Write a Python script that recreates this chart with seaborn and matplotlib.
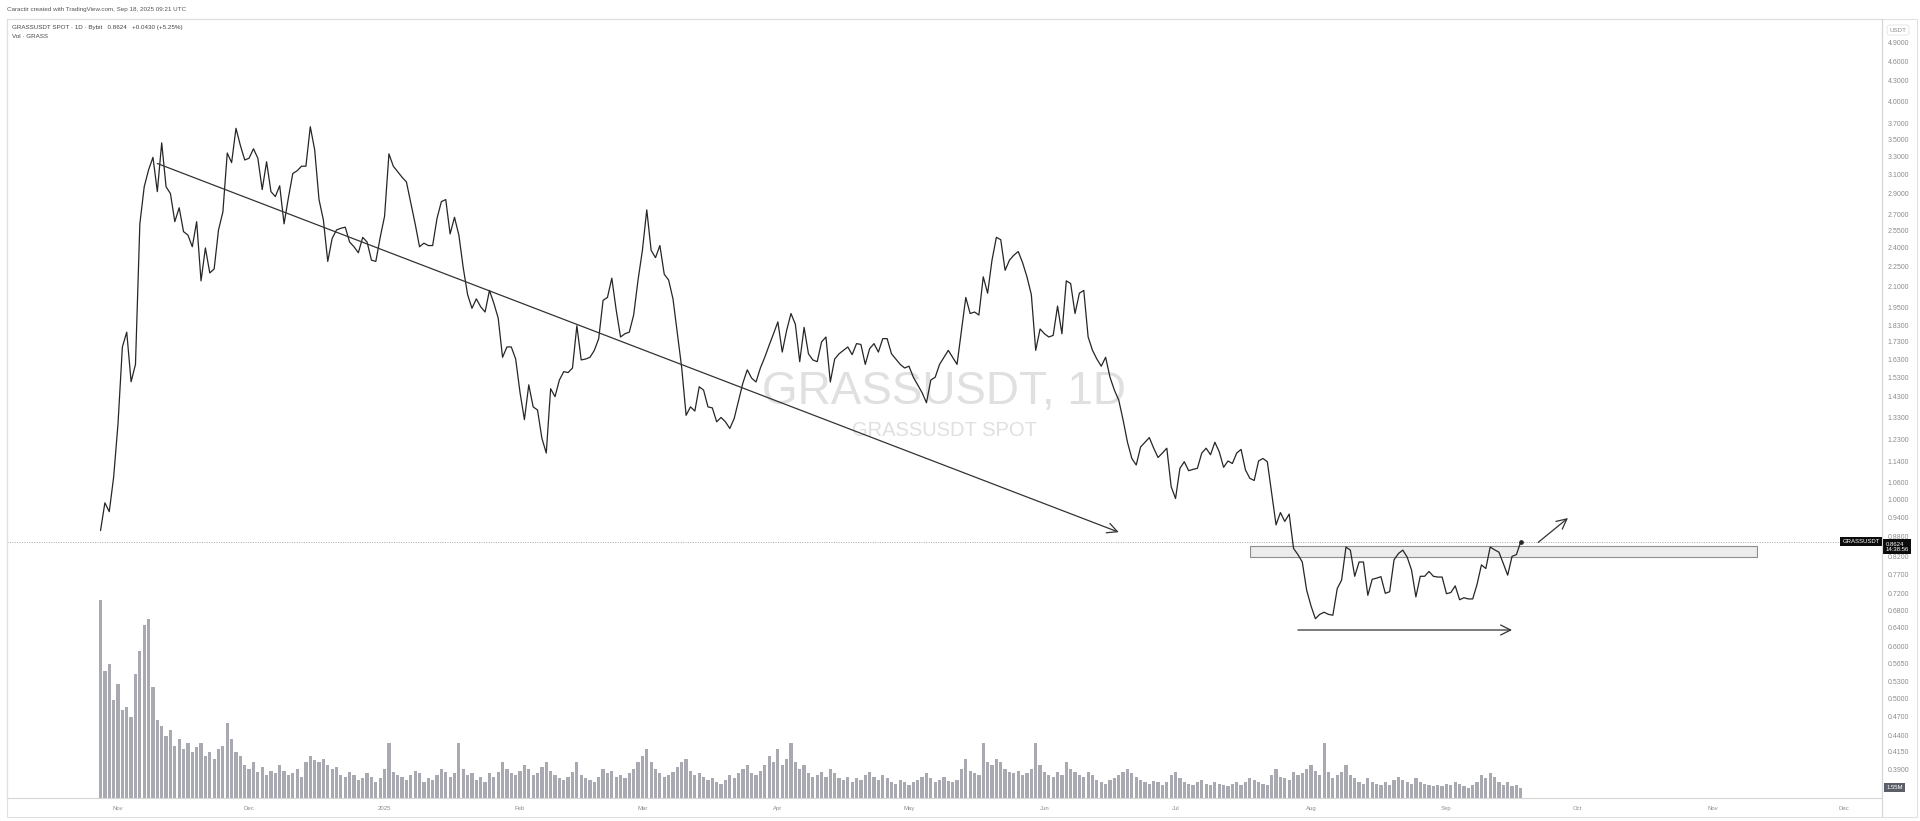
import numpy as np
import pandas as pd
import matplotlib
matplotlib.use("Agg")
import matplotlib.pyplot as plt
import matplotlib.dates as mdates
from matplotlib.patches import Rectangle
import seaborn as sns

# ---------------- data ----------------
start_date = "2024-10-28"

price = [
    0.897, 0.988, 0.958, 1.08, 1.30, 1.70, 1.79, 1.506, 1.60, 2.61,
    2.97, 3.15, 3.29, 2.92, 3.46, 2.97, 2.90, 2.63, 2.76, 2.54,
    2.51, 2.41, 2.63, 2.14, 2.40, 2.20, 2.23, 2.555, 2.72, 3.34,
    3.23, 3.64, 3.43, 3.26, 3.28, 3.39, 3.28, 2.94, 3.24, 2.92,
    2.87, 2.98, 2.61, 2.86, 3.11, 3.14, 3.19, 3.19, 3.66, 3.38,
    2.84, 2.645, 2.29, 2.48, 2.555, 2.57, 2.58, 2.45, 2.41, 2.36,
    2.49, 2.45, 2.30, 2.29, 2.49, 2.68, 3.33, 3.19, 3.13, 3.07,
    3.02, 2.81, 2.61, 2.41, 2.44, 2.42, 2.42, 2.66, 2.82, 2.84,
    2.52, 2.67, 2.51, 2.24, 2.04, 1.945, 2.01, 1.955, 1.92, 2.07,
    1.98, 1.88, 1.64, 1.70, 1.70, 1.63, 1.45, 1.32, 1.49, 1.38,
    1.365, 1.237, 1.175, 1.47, 1.43, 1.515, 1.56, 1.555, 1.58, 1.83,
    1.625, 1.63, 1.64, 1.68, 1.75, 2.00, 2.02, 2.16, 1.934, 1.76,
    1.78, 1.79, 1.90, 2.146, 2.38, 2.74, 2.38, 2.32, 2.42, 2.19,
    2.146, 2.01, 1.78, 1.58, 1.34, 1.38, 1.36, 1.48, 1.463, 1.38,
    1.375, 1.31, 1.33, 1.31, 1.28, 1.325, 1.41, 1.50, 1.57, 1.525,
    1.505, 1.58, 1.64, 1.71, 1.78, 1.855, 1.67, 1.80, 1.91, 1.84,
    1.615, 1.82, 1.66, 1.625, 1.615, 1.73, 1.76, 1.505, 1.63, 1.66,
    1.68, 1.70, 1.655, 1.72, 1.715, 1.60, 1.69, 1.72, 1.67, 1.75,
    1.75, 1.66, 1.63, 1.60, 1.58, 1.59, 1.53, 1.49, 1.45, 1.40,
    1.515, 1.53, 1.60, 1.64, 1.68, 1.64, 1.60, 1.80, 2.02, 1.91,
    1.92, 1.90, 2.17, 2.05, 2.30, 2.49, 2.47, 2.22, 2.30, 2.34,
    2.37, 2.28, 2.17, 2.04, 1.68, 1.81, 1.78, 1.76, 1.77, 1.96,
    1.78, 2.14, 2.12, 1.91, 2.05, 2.07, 1.76, 1.68, 1.63, 1.59,
    1.64, 1.53, 1.463, 1.413, 1.318, 1.22, 1.153, 1.127, 1.20, 1.22,
    1.24, 1.195, 1.157, 1.175, 1.195, 1.045, 1.003, 1.114, 1.14, 1.105,
    1.11, 1.114, 1.175, 1.195, 1.168, 1.22, 1.18, 1.118, 1.143, 1.133,
    1.175, 1.19, 1.108, 1.076, 1.068, 1.143, 1.153, 1.14, 1.02, 0.915,
    0.955, 0.926, 0.950, 0.843, 0.825, 0.804, 0.729, 0.69, 0.66, 0.67,
    0.675, 0.67, 0.668, 0.733, 0.755, 0.847, 0.838, 0.765, 0.804, 0.804,
    0.716, 0.757, 0.76, 0.764, 0.721, 0.725, 0.81, 0.828, 0.838, 0.818,
    0.782, 0.712, 0.765, 0.765, 0.778, 0.765, 0.763, 0.763, 0.72, 0.723,
    0.74, 0.705, 0.71, 0.707, 0.707, 0.744, 0.796, 0.786, 0.847, 0.839,
    0.832, 0.80, 0.768, 0.82, 0.825, 0.8624,
]

volume_m = [
    30.4, 19.5, 20.5, 15.0, 17.5, 13.5, 14.0, 12.5, 19.0, 22.5,
    26.5, 27.5, 17.0, 12.0, 11.0, 9.5, 10.5, 8.0, 9.0, 7.5,
    8.5, 7.0, 7.8, 8.5, 6.5, 7.0, 6.0, 7.5, 8.0, 11.5,
    9.0, 7.0, 6.5, 5.0, 4.5, 5.5, 4.0, 4.8, 3.5, 4.2,
    3.8, 5.0, 4.2, 3.5, 3.8, 4.5, 3.2, 5.5, 6.5, 5.8,
    5.5, 6.0, 5.0, 4.5, 4.8, 3.5, 3.2, 4.0, 3.5, 2.8,
    3.0, 3.8, 3.2, 2.5, 3.0, 4.5, 8.5, 4.0, 3.5, 3.2,
    2.8, 3.5, 4.2, 3.8, 2.5, 3.0, 2.8, 3.5, 4.5, 4.0,
    3.2, 3.8, 8.5, 4.5, 3.5, 3.8, 2.8, 3.2, 2.5, 3.8,
    3.2, 4.0, 5.5, 4.5, 3.8, 3.5, 4.2, 5.0, 4.5, 3.5,
    3.8, 4.8, 5.5, 4.2, 3.5, 3.0, 2.8, 3.2, 4.0, 5.5,
    3.5, 3.0, 2.8, 2.5, 3.2, 4.5, 3.8, 4.2, 3.2, 3.5,
    3.0, 3.8, 4.5, 5.5, 6.5, 7.5, 5.5, 4.5, 3.8, 3.2,
    3.5, 4.0, 4.8, 5.5, 6.0, 4.2, 3.5, 3.8, 3.2, 2.8,
    3.0, 2.5, 2.2, 2.8, 3.5, 3.0, 3.8, 4.5, 5.0, 3.8,
    3.5, 4.2, 5.0, 6.5, 5.5, 7.5, 5.0, 6.0, 8.5, 5.5,
    4.5, 5.0, 3.8, 3.2, 3.5, 4.0, 3.2, 4.5, 3.8, 3.0,
    2.8, 3.2, 2.5, 3.0, 2.8, 3.5, 4.0, 3.2, 2.8, 3.5,
    3.0, 2.5, 2.2, 2.8, 2.5, 2.0, 2.4, 2.8, 3.2, 3.8,
    3.0, 2.5, 2.8, 3.2, 2.6, 2.4, 2.8, 4.5, 6.0, 4.2,
    3.8, 3.5, 8.5, 5.5, 5.0, 6.0, 5.5, 4.5, 4.0, 3.8,
    4.2, 3.5, 3.8, 4.5, 8.5, 5.0, 4.0, 3.5, 3.2, 4.0,
    3.5, 5.5, 4.5, 4.0, 3.5, 3.2, 4.0, 3.5, 2.8, 2.5,
    2.2, 2.8, 3.0, 3.5, 4.0, 4.5, 3.8, 3.2, 2.8, 2.5,
    2.2, 2.6, 2.4, 2.0, 2.5, 3.5, 4.0, 3.0, 2.5, 2.2,
    2.0, 2.4, 2.8, 2.2, 2.0, 2.5, 2.2, 2.0, 1.8, 2.2,
    2.5, 2.0, 2.4, 3.0, 2.8, 2.5, 2.2, 2.0, 3.5, 4.5,
    3.2, 3.0, 2.8, 4.0, 3.5, 3.8, 4.5, 5.0, 4.2, 3.5,
    8.5, 4.0, 3.0, 3.5, 4.0, 5.0, 3.5, 3.0, 2.5, 2.2,
    3.0, 2.5, 2.2, 2.0, 2.4, 2.0, 2.8, 3.2, 2.8, 2.5,
    2.2, 3.0, 2.5, 2.2, 2.0, 1.8, 2.0, 1.8, 2.2, 2.0,
    2.4, 2.2, 1.8, 1.6, 2.0, 2.5, 3.5, 3.0, 3.8, 3.2,
    2.5, 2.0, 2.4, 1.8, 2.0, 1.55,
]

month_ticks = ["2024-11-01", "2024-12-01", "2025-01-01", "2025-02-01", "2025-03-01",
               "2025-04-01", "2025-05-01", "2025-06-01", "2025-07-01", "2025-08-01",
               "2025-09-01", "2025-10-01", "2025-11-01", "2025-12-01"]
month_labels = ["Nov", "Dec", "2025", "Feb", "Mar", "Apr", "May", "Jun", "Jul",
                "Aug", "Sep", "Oct", "Nov", "Dec"]

price_ticks = [4.9, 4.6, 4.3, 4.0, 3.7, 3.5, 3.3, 3.1, 2.9, 2.7, 2.55, 2.4, 2.25,
               2.1, 1.95, 1.83, 1.73, 1.63, 1.53, 1.43, 1.33, 1.23, 1.14, 1.06,
               1.0, 0.94, 0.88, 0.82, 0.77, 0.72, 0.68, 0.64, 0.6, 0.565, 0.53,
               0.5, 0.47, 0.44, 0.415, 0.39]

last_price = 0.8624
last_volume_label = "1.55M"
countdown = "14:38:56"

# drawings (date, price)
trend_start = ("2024-11-10", 3.22)
trend_end = ("2025-06-18", 0.892)
zone_dates = ("2025-07-18", "2025-11-11")
zone_prices = (0.819, 0.850)
range_arrow = ("2025-07-29", "2025-09-16", 0.6345)
break_arrow_start = ("2025-09-22", 0.861)
break_arrow_end = ("2025-09-28 19:00", 0.937)

header_text = "Caractir created with TradingView.com, Sep 18, 2025 09:21 UTC"
legend_line1 = "GRASSUSDT SPOT · 1D · Bybit   0.8624   +0.0430 (+5.25%)"
legend_line2 = "Vol · GRASS"
watermark1 = "GRASSUSDT, 1D"
watermark2 = "GRASSUSDT SPOT"

# ---------------- figure ----------------
sns.set_theme(style="white")
plt.rcParams['font.family'] = ['Liberation Sans', 'DejaVu Sans']

W, H = 1920, 821
fig = plt.figure(figsize=(W / 100, H / 100), dpi=100)
fig.patch.set_facecolor("white")

L, R, T, B = 7, 1882, 19, 798
rect = [L / W, 1 - B / H, (R - L) / W, (B - T) / H]


def fx(px):
    return px / W


def fy(py):
    return 1 - py / H


dates = pd.date_range(start_date, periods=len(price), freq="D")
d0 = pd.Timestamp(start_date)
xlim = (d0 - pd.Timedelta(days=21.4), d0 + pd.Timedelta(days=407.66))

# volume axis (behind)
ax_vol = fig.add_axes(rect)
ax_vol.bar(dates, volume_m, width=0.74, color="#a9a9b1", edgecolor="none")
ax_vol.set_xlim(*xlim)
ax_vol.set_ylim(0, 30.4 * (B - T) / 198)
ax_vol.axis("off")

# watermark
ax_vol.text(fx(944), fy(392), watermark1, transform=fig.transFigure, ha="center",
            va="center", fontsize=33, color="#e0e0e0", zorder=0)
ax_vol.text(fx(944), fy(431), watermark2, transform=fig.transFigure, ha="center",
            va="center", fontsize=14.5, color="#e0e0e0", zorder=0)

# price axis
ax = fig.add_axes(rect)
ax.patch.set_visible(False)
ax.set_yscale("log")
sns.lineplot(x=dates, y=price, ax=ax, color="#262626", linewidth=0.9)
ax.plot([dates[-1]], [price[-1]], "o", ms=2.4, color="#262626")
ax.set_xlim(*xlim)
ax.set_ylim(0.3535, 5.326)
ax.set_xlabel("")
ax.set_ylabel("")

ax.yaxis.tick_right()
ax.yaxis.set_minor_locator(matplotlib.ticker.NullLocator())
ax.set_yticks(price_ticks)
ax.set_yticklabels([f"{p:.4f}" for p in price_ticks])
ax.tick_params(axis="y", length=0, pad=4, labelsize=5, labelcolor="#8c8c8c")

ax.set_xticks([pd.Timestamp(m) for m in month_ticks])
ax.set_xticklabels(month_labels)
ax.tick_params(axis="x", length=0, pad=5.5, labelsize=4.3, labelcolor="#8c8c8c")

for s in ["top", "left", "bottom", "right"]:
    ax.spines[s].set_color("#d6d6d6")
    ax.spines[s].set_linewidth(0.8)

# current price dotted line
ax.axhline(last_price, ls=(0, (1, 1.5)), color="#a8a8a8", lw=0.7, zorder=1)

# trend line with arrow
ax.annotate("", xy=(mdates.date2num(pd.Timestamp(trend_end[0])), trend_end[1]),
            xytext=(mdates.date2num(pd.Timestamp(trend_start[0])), trend_start[1]),
            arrowprops=dict(arrowstyle="->,head_length=0.6,head_width=0.3",
                            color="#333333", lw=0.9, shrinkA=0, shrinkB=0))

# zone rectangle
zx0 = mdates.date2num(pd.Timestamp(zone_dates[0]))
zx1 = mdates.date2num(pd.Timestamp(zone_dates[1]))
ax.add_patch(Rectangle((zx0, zone_prices[0]), zx1 - zx0, zone_prices[1] - zone_prices[0],
                       facecolor="#ececec", edgecolor="#8f8f8f", lw=0.8, zorder=1.5))

# range arrow
ax.annotate("", xy=(mdates.date2num(pd.Timestamp(range_arrow[1])), range_arrow[2]),
            xytext=(mdates.date2num(pd.Timestamp(range_arrow[0])), range_arrow[2]),
            arrowprops=dict(arrowstyle="->,head_length=0.6,head_width=0.3",
                            color="#333333", lw=0.9, shrinkA=0, shrinkB=0))

# breakout arrow
ax.annotate("", xy=(mdates.date2num(pd.Timestamp(break_arrow_end[0])), break_arrow_end[1]),
            xytext=(mdates.date2num(pd.Timestamp(break_arrow_start[0])), break_arrow_start[1]),
            arrowprops=dict(arrowstyle="->,head_length=0.6,head_width=0.3",
                            color="#333333", lw=0.9, shrinkA=0, shrinkB=0))

# price labels on the axis
ax.annotate(f"{last_price:.4f}\n{countdown}", xy=(1, last_price),
            xycoords=("axes fraction", "data"), xytext=(2.5, -3.5),
            textcoords="offset points", ha="left", va="center", fontsize=4.3,
            color="white", linespacing=1.1, annotation_clip=False,
            bbox=dict(boxstyle="square,pad=0.35", fc="#0c0c0c", ec="none"), zorder=10)
ax.annotate("GRASSUSDT", xy=(1, last_price), xycoords=("axes fraction", "data"),
            xytext=(-1.5, 0), textcoords="offset points", ha="right", va="center",
            fontsize=4.3, color="white", annotation_clip=False,
            bbox=dict(boxstyle="square,pad=0.35", fc="#0c0c0c", ec="none"), zorder=10)
ax_vol.annotate(last_volume_label, xy=(1, volume_m[-1]), xycoords=("axes fraction", "data"),
                xytext=(3, 0), textcoords="offset points", ha="left", va="center",
                fontsize=4.3, color="white", annotation_clip=False,
                bbox=dict(boxstyle="square,pad=0.35", fc="#5c5f68", ec="none"), zorder=10)

# outer frame and separators
fig.patches.append(Rectangle((fx(7), fy(817)), fx(1917) - fx(7), fy(19) - fy(817),
                             transform=fig.transFigure, fill=False, ec="#e0e0e0", lw=0.8))
fig.add_artist(plt.Line2D([fx(1882), fx(1882)], [fy(817), fy(19)], transform=fig.transFigure,
                          color="#d6d6d6", lw=0.8))

# texts
fig.text(fx(7), fy(10), header_text, fontsize=4.5, color="#555555", ha="left", va="center")
fig.text(fx(12), fy(27), legend_line1, fontsize=4.5, color="#444444", ha="left", va="center")
fig.text(fx(12), fy(37), legend_line2, fontsize=4.5, color="#444444", ha="left", va="center")
fig.text(fx(1898), fy(30), "USDT", fontsize=4.5, color="#8c8c8c", ha="center", va="center",
         bbox=dict(boxstyle="round,pad=0.4", fc="white", ec="#e3e3e3", lw=0.6))

fig.savefig("out.png", dpi=100, facecolor="white")
